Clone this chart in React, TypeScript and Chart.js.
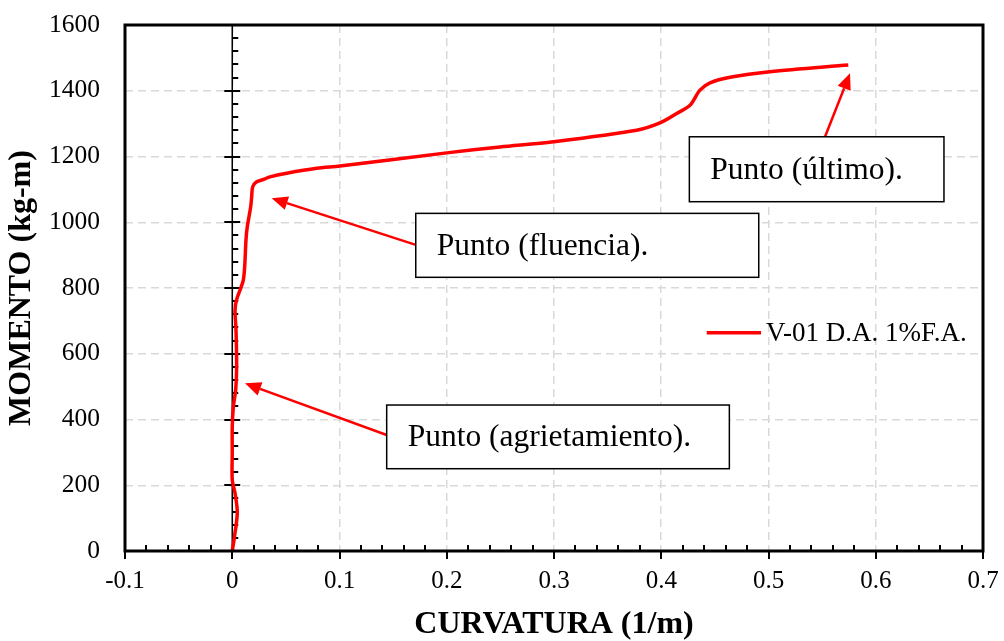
import React, { useEffect, useRef } from 'react';
import { Chart, registerables } from 'chart.js';

Chart.register(...registerables);

// ---- Data ----
const curvatura = [
  0, 0.0016, 0.0047, 0.0026, 0.0, 0.0, 0.0, 0.001, 0.0032, 0.0041, 0.0035, 0.0026,
  0.004, 0.008, 0.0103, 0.0116, 0.0128, 0.014, 0.0172, 0.0181, 0.0191, 0.0228, 0.029,
  0.0352, 0.0508, 0.0787, 0.1005, 0.2, 0.2497, 0.2993, 0.3771, 0.3988, 0.4144, 0.4268,
  0.4361, 0.4455, 0.4641, 0.5014, 0.5744,
];
const momento = [
  0, 33, 116, 176, 216, 298, 377, 438, 490, 560, 672, 733,
  764, 800, 824, 865, 946, 986, 1047, 1078, 1108, 1123, 1130,
  1138, 1149, 1164, 1171, 1211, 1229, 1245, 1280, 1302, 1331, 1356,
  1402, 1424, 1441, 1458, 1478,
];
const seriesLabel = 'V-01 D.A. 1%F.A.';
const xTitle = 'CURVATURA (1/m)';
const yTitle = 'MOMENTO (kg-m)';
const xMin = -0.1, xMax = 0.7, xStep = 0.1;
const yMin = 0, yMax = 1600, yStep = 200;

// annotation texts and their anchors in data units
const noteTexts = ['Punto (último).', 'Punto (fluencia).', 'Punto (agrietamiento).'];
const noteBoxes = [
  [0.4262, 1260, 0.6636, 1062.5],
  [0.1711, 1027, 0.4909, 832.5],
  [0.144, 444, 0.4635, 250.3],
];
const noteArrowFrom = [[0.5527, 1260], [0.1711, 931], [0.144, 353]];
const noteArrowTo = [[0.576, 1453], [0.0368, 1073], [0.0119, 510]];
const legendAnchor = [0.4424, 0.493, 664];

const SERIF = "'Liberation Serif', 'Times New Roman', serif";
const RED = '#ff0000';

const overlayPlugin = {
  id: 'overlay',
  beforeDatasetsDraw(chart: any) {
    const { ctx, chartArea: a, scales } = chart;
    const xs = scales.x, ys = scales.y;
    const x0 = xs.getPixelForValue(0);
    ctx.save();
    ctx.strokeStyle = '#000';
    ctx.lineWidth = 1.5;
    ctx.beginPath();
    ctx.moveTo(x0, a.top);
    ctx.lineTo(x0, a.bottom);
    ctx.stroke();
    ctx.lineWidth = 2;
    const nY = Math.round((yMax - yMin) / (yStep / 5));
    for (let i = 1; i <= nY; i++) {
      const v = yMin + (i * yStep) / 5;
      const py = Math.round(ys.getPixelForValue(v));
      ctx.beginPath();
      if (i % 5 === 0) {
        ctx.moveTo(x0 - 8, py);
        ctx.lineTo(x0 + 8, py);
      } else {
        ctx.moveTo(x0, py);
        ctx.lineTo(x0 + 6, py);
      }
      ctx.stroke();
    }
    ctx.restore();
  },
  afterDatasetsDraw(chart: any) {
    const { ctx, chartArea: a, scales } = chart;
    const xs = scales.x, ys = scales.y;
    const px = (v: number) => xs.getPixelForValue(v);
    const py = (v: number) => ys.getPixelForValue(v);
    ctx.save();
    ctx.strokeStyle = '#000';
    ctx.lineWidth = 2;
    const nX = Math.round((xMax - xMin) / (xStep / 5));
    for (let i = 0; i <= nX; i++) {
      const v = xMin + (i * xStep) / 5;
      const x = Math.round(px(v));
      ctx.beginPath();
      if (i % 5 === 0) {
        ctx.moveTo(x, a.bottom);
        ctx.lineTo(x, a.bottom + 8);
      } else {
        ctx.moveTo(x, a.bottom);
        ctx.lineTo(x, a.bottom - 6);
      }
      ctx.stroke();
    }
    ctx.lineWidth = 3;
    ctx.strokeRect(a.left, a.top, a.right - a.left, a.bottom - a.top);

    noteTexts.forEach((t, i) => {
      const [bx1, by1, bx2, by2] = noteBoxes[i];
      const L = px(bx1), T = py(by1), R = px(bx2), B = py(by2);
      const fx = px(noteArrowFrom[i][0]), fy = py(noteArrowFrom[i][1]);
      const tx = px(noteArrowTo[i][0]), ty = py(noteArrowTo[i][1]);
      const ang = Math.atan2(ty - fy, tx - fx);
      const hl = 16, hw = 7;
      const bxp = tx - hl * Math.cos(ang), byp = ty - hl * Math.sin(ang);
      ctx.strokeStyle = RED;
      ctx.fillStyle = RED;
      ctx.lineWidth = 2.5;
      ctx.beginPath();
      ctx.moveTo(fx, fy);
      ctx.lineTo(bxp, byp);
      ctx.stroke();
      ctx.beginPath();
      ctx.moveTo(tx, ty);
      ctx.lineTo(bxp + hw * Math.sin(ang), byp - hw * Math.cos(ang));
      ctx.lineTo(bxp - hw * Math.sin(ang), byp + hw * Math.cos(ang));
      ctx.closePath();
      ctx.fill();
      ctx.fillStyle = '#fff';
      ctx.fillRect(L, T, R - L, B - T);
      ctx.strokeStyle = '#000';
      ctx.lineWidth = 1.5;
      ctx.strokeRect(L, T, R - L, B - T);
      ctx.fillStyle = '#000';
      ctx.font = `31.5px ${SERIF}`;
      ctx.textAlign = 'left';
      ctx.textBaseline = 'middle';
      ctx.fillText(t, L + 21, (T + B) / 2 + 1);
    });

    const ds = chart.data.datasets[0];
    const lx1 = px(legendAnchor[0]), lx2 = px(legendAnchor[1]), ly = py(legendAnchor[2]);
    ctx.strokeStyle = ds.borderColor;
    ctx.lineWidth = 3.5;
    ctx.beginPath();
    ctx.moveTo(lx1, ly);
    ctx.lineTo(lx2, ly);
    ctx.stroke();
    ctx.fillStyle = '#000';
    ctx.font = `27px ${SERIF}`;
    ctx.textAlign = 'left';
    ctx.textBaseline = 'middle';
    ctx.fillText(ds.label, lx2 + 5, ly + 1);
    ctx.restore();
  },
};

export default function App() {
  const ref = useRef<HTMLCanvasElement | null>(null);
  useEffect(() => {
    if (!ref.current) return;
    const chart = new Chart(ref.current, {
      type: 'line',
      data: {
        datasets: [
          {
            label: seriesLabel,
            data: curvatura.map((c, i) => ({ x: c, y: momento[i] })),
            borderColor: RED,
            backgroundColor: RED,
            borderWidth: 3.5,
            pointRadius: 0,
            tension: 0.3,
            fill: false,
          },
        ],
      },
      options: {
        animation: false,
        responsive: false,
        maintainAspectRatio: false,
        layout: { padding: { top: 25, right: 21, left: 0, bottom: 0 } },
        plugins: { legend: { display: false }, tooltip: { enabled: false } },
        scales: {
          x: {
            type: 'linear',
            min: xMin,
            max: xMax,
            ticks: {
              stepSize: xStep,
              color: '#000',
              font: { family: SERIF, size: 25 },
              padding: 15,
              maxRotation: 0,
              callback: (v: any) => String(Math.round(Number(v) * 10) / 10),
            },
            grid: { color: '#d9d9d9', lineWidth: 1.5, drawTicks: false },
            border: { display: false, dash: [8, 5] },
            title: {
              display: true,
              text: xTitle,
              color: '#000',
              font: { family: SERIF, size: 32, weight: 'bold', lineHeight: 1 },
              padding: { top: 0, bottom: 0 },
            },
            afterFit: (s: any) => {
              s.height = 90;
              s.paddingLeft = 0;
              s.paddingRight = 0;
            },
          },
          y: {
            type: 'linear',
            min: yMin,
            max: yMax,
            ticks: {
              stepSize: yStep,
              color: '#000',
              font: { family: SERIF, size: 25.5 },
              padding: 25,
              callback: (v: any) => String(Math.round(Number(v))),
            },
            grid: { color: '#d9d9d9', lineWidth: 1.5, drawTicks: false },
            border: { display: false, dash: [8, 5] },
            title: {
              display: true,
              text: yTitle,
              color: '#000',
              font: { family: SERIF, size: 32, weight: 'bold', lineHeight: 1 },
              padding: { top: 6, bottom: 0 },
            },
            afterFit: (s: any) => {
              s.width = 125;
              s.paddingTop = 0;
              s.paddingBottom = 0;
            },
          },
        },
      } as any,
      plugins: [overlayPlugin],
    });
    return () => chart.destroy();
  }, []);
  return (
    <div style={{ position: 'absolute', left: 0, top: 0, width: 1004, height: 641, background: '#fff' }}>
      <canvas ref={ref} width={1004} height={641} style={{ width: 1004, height: 641, display: 'block' }} />
    </div>
  );
}
